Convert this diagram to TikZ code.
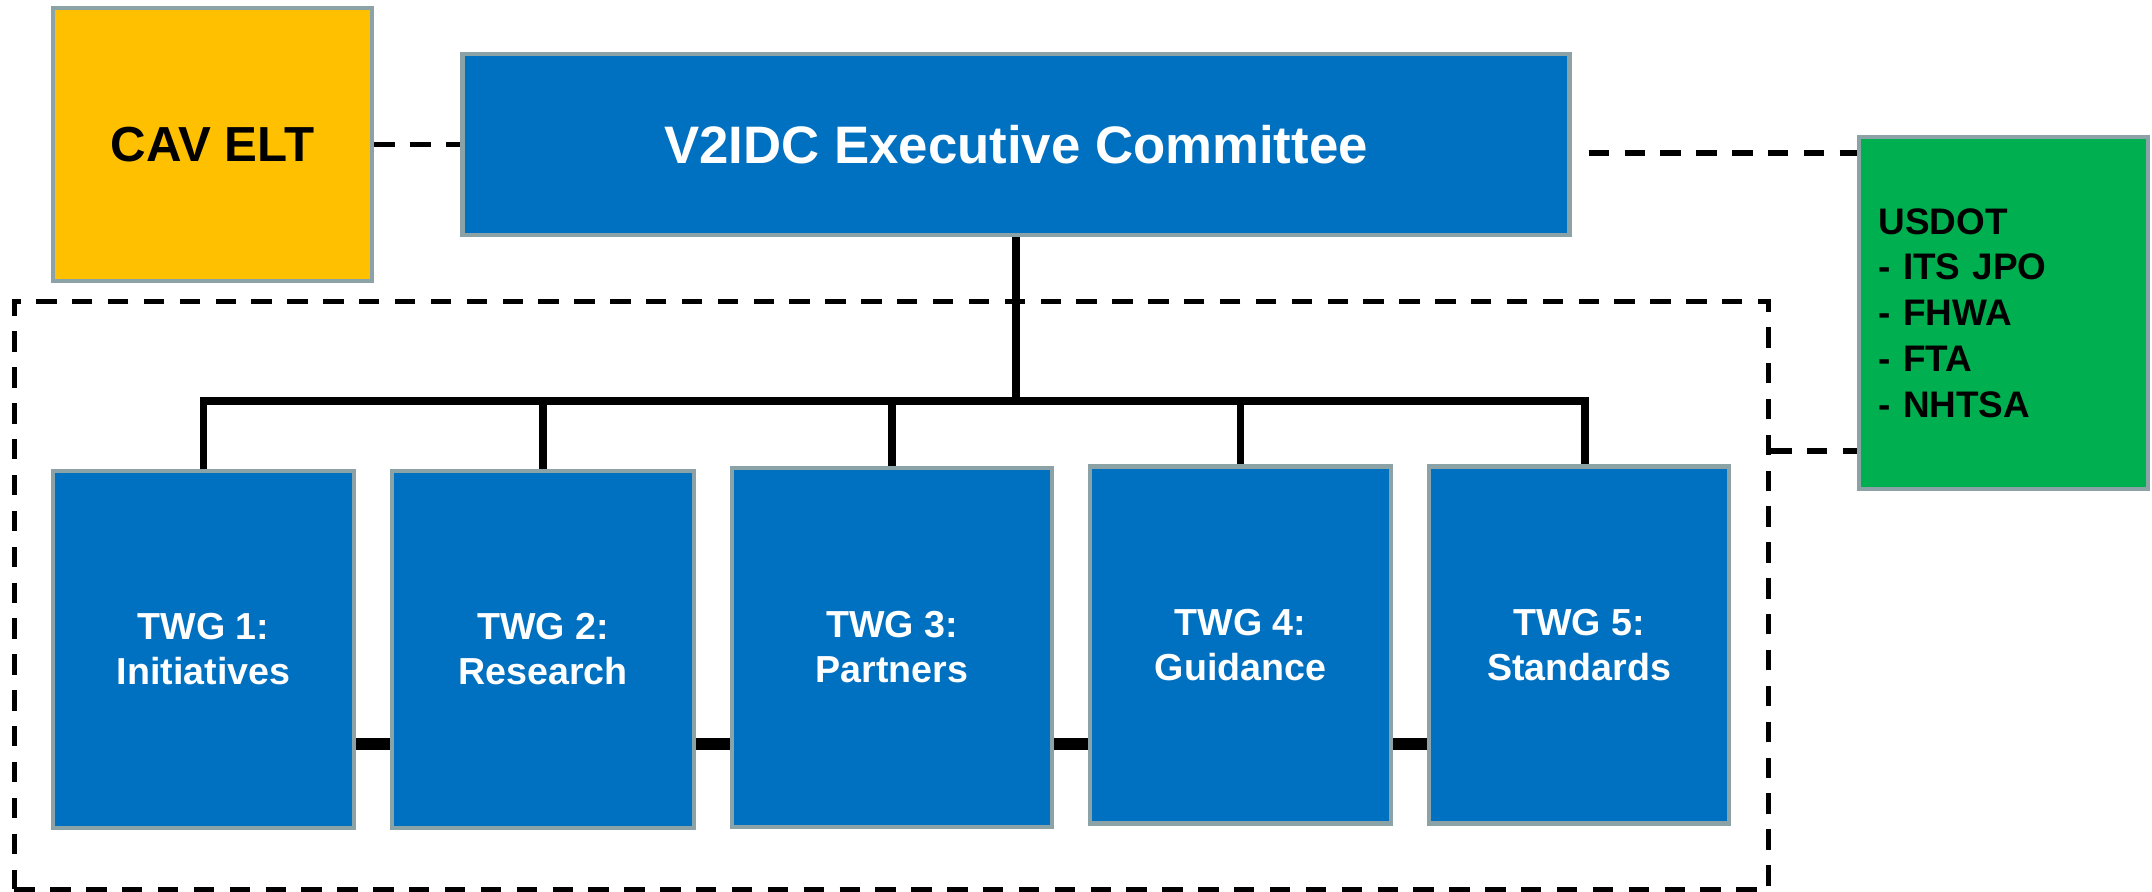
\documentclass[tikz,border=0pt]{standalone}
\usepackage{fontspec}
\setmainfont{Liberation Sans}
\usetikzlibrary{positioning, calc}
\definecolor{execblue}{HTML}{0070C0}
\definecolor{eltgold}{HTML}{FFC000}
\definecolor{dotgreen}{HTML}{00B050}
\definecolor{edge}{HTML}{8BA3A6}
\tikzset{
    % Base box style
    orgbox/.style={
        rectangle,
        draw=edge,
        fill=#1,
        line width=1.3pt,
        align=center,
        inner sep=0pt,
        font=\bfseries
    },
    % Solid tree connector
    tie/.style={
        line width=2.1pt,
        color=black
    },
    % Thick link between groups
    rung/.style={
        line width=3.4pt,
        color=black
    },
    % Dashed connector
    dashtie/.style={
        line width=1.5pt,
        dash pattern=on 5.8pt off 4.4pt,
        color=black
    }
}

\begin{document}
\begin{tikzpicture}[
        x=0.01cm, y=-0.01cm,
        twg/.style={orgbox=execblue, text=white, minimum width=3.01cm, minimum height=3.57cm,
            font=\bfseries\fontsize{10.7}{12.8}\selectfont}
    ]
        \useasboundingbox[fill=white] (0,0) rectangle (2152,892);

        % Working group frame
        \node[dashtie, draw, inner sep=0pt, minimum width=17.53cm, minimum height=5.87cm] (group) at (891.5,595.5) {};

        % Top level
        \node[orgbox=eltgold, minimum width=3.19cm, minimum height=2.73cm,
            font=\bfseries\fontsize{14}{16}\selectfont] (cav) at (212.5,144.5) {CAV ELT};
        \node[orgbox=execblue, text=white, minimum width=11.06cm, minimum height=1.81cm,
            font=\bfseries\fontsize{15}{18}\selectfont] (exec) at (1016,144.5) {V2IDC Executive Committee};
        \node[orgbox=dotgreen, minimum width=2.89cm, minimum height=3.52cm, text width=2.5cm, align=left,
            font=\bfseries\fontsize{10.5}{13}\selectfont] (usdot) at (2003.5,313)
            {USDOT\\- ITS JPO\\- FHWA\\- FTA\\- NHTSA};

        % Working groups
        \node[twg] (twg1) at (203.5,649.5) {TWG 1:\\Initiatives};
        \node[twg, minimum width=3.02cm] (twg2) at (543,649.5) {TWG 2:\\Research};
        \node[twg, minimum width=3.2cm, minimum height=3.59cm] (twg3) at (892,647.5) {TWG 3:\\Partners};
        \node[twg] (twg4) at (1240.5,645) {TWG 4:\\Guidance};
        \node[twg, minimum width=3cm] (twg5) at (1579,645) {TWG 5:\\Standards};

        % Connections
        \coordinate (bus) at (1016,401);
        \coordinate (row) at (0,744);
        \draw[dashtie] (cav) -- (exec);
        \draw[dashtie] ([shift={(17,8.5)}]exec.east) coordinate (tap) -- (tap -| usdot.west);
        \draw[dashtie] ([shift={(0,-144.5)}]group.east) -- ([shift={(0,-144.5)}]group.east -| usdot.west);
        \draw[tie] (exec.south) -- (exec.south |- bus);
        \draw[tie, line cap=rect] (twg1.north |- bus) -- ([shift={(6,0)}]twg5.north |- bus);
        \foreach \i in {1,...,4}
            \draw[tie] (twg\i.north |- bus) -- (twg\i.north);
        \draw[tie] ([shift={(6,0)}]twg5.north |- bus) -- ([shift={(6,0)}]twg5.north);
        \foreach \a/\b in {1/2, 2/3, 3/4, 4/5}
            \draw[rung] (twg\a.east |- row) -- (twg\b.west |- row);

    \end{tikzpicture}
\end{document}
